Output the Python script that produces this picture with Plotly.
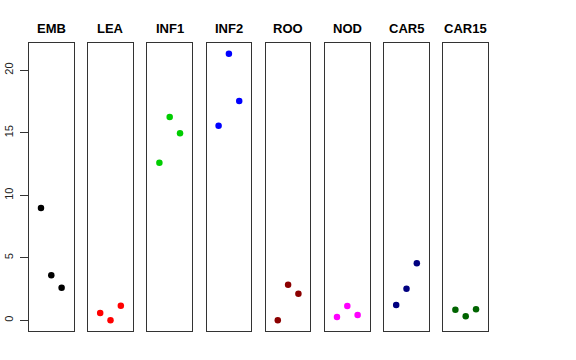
import plotly.graph_objects as go
from plotly.subplots import make_subplots

groups = ["EMB", "LEA", "INF1", "INF2", "ROO", "NOD", "CAR5", "CAR15"]
colors = ["#000000", "#FF0000", "#00CD00", "#0000FF", "#8B0000", "#FF00FF", "#000080", "#006400"]
replicate = [1, 2, 3]
values = {
    "EMB": [8.98, 3.60, 2.61],
    "LEA": [0.58, 0.00, 1.17],
    "INF1": [12.61, 16.26, 14.96],
    "INF2": [15.57, 21.33, 17.54],
    "ROO": [0.00, 2.85, 2.13],
    "NOD": [0.26, 1.14, 0.42],
    "CAR5": [1.22, 2.53, 4.56],
    "CAR15": [0.85, 0.32, 0.88],
}
y_ticks = [0, 5, 10, 15, 20]

W, H = 576, 360
ml, mr, mt, mb = 29, 88, 43, 29
plot_w = W - ml - mr
gap = 14.6

fig = make_subplots(rows=1, cols=len(groups), shared_yaxes=True,
                    horizontal_spacing=gap / plot_w)

for i, (g, c) in enumerate(zip(groups, colors)):
    fig.add_trace(go.Scatter(x=replicate, y=values[g], mode="markers",
                             marker=dict(color=c, size=6.5, line=dict(width=0)),
                             showlegend=False, hoverinfo="y"),
                  row=1, col=i + 1)
    fig.update_xaxes(range=[-0.16, 4.16], showticklabels=False, ticks="",
                     showgrid=False, zeroline=False, showline=True, mirror=True,
                     linecolor="#333333", linewidth=1, automargin=False,
                     row=1, col=i + 1)
    fig.update_yaxes(range=[-0.853, 22.18], showgrid=False, zeroline=False,
                     showline=True, mirror=True, linecolor="#333333", linewidth=1,
                     automargin=False, row=1, col=i + 1)
    xref = "x domain" if i == 0 else f"x{i+1} domain"
    fig.add_annotation(text=f"<b>{g}</b>", xref=xref, yref="paper", x=0.5, y=1,
                       yshift=5, yanchor="bottom", showarrow=False,
                       font=dict(size=13, color="black",
                                 family="Liberation Sans, Arial, sans-serif"))

fig.update_yaxes(tickvals=y_ticks, ticktext=[str(v) for v in y_ticks],
                 ticks="outside", ticklen=8, tickcolor="#333333", tickangle=-90,
                 ticklabelstandoff=3,
                 tickfont=dict(size=11, color="#222222"),
                 row=1, col=1)

fig.update_layout(width=W, height=H, margin=dict(l=ml, r=mr, t=mt, b=mb),
                  paper_bgcolor="white", plot_bgcolor="white",
                  font=dict(family="Liberation Sans, Arial, sans-serif"))

fig.write_html("out.html", config={"displayModeBar": False},
               post_script="document.body.style.margin='0';")
